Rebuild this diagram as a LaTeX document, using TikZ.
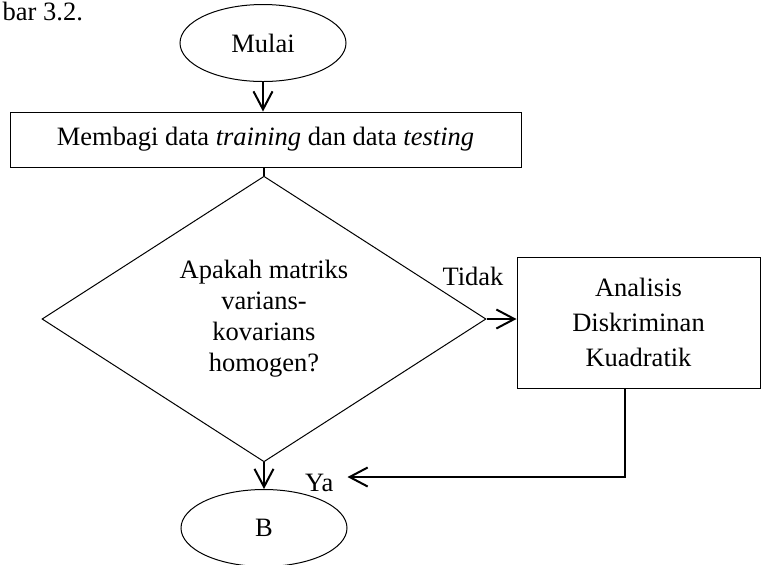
\documentclass[tikz,border=0pt]{standalone}
\usepackage{fontspec}
\setmainfont{Liberation Serif}
\usetikzlibrary{shapes.geometric,arrows.meta}

\begin{document}
\begin{tikzpicture}[x=0.5pt,y=-0.5pt,
    font=\fontsize{13.25}{15.5}\selectfont,
    proses/.style={draw,line width=0.5pt,inner sep=0pt,align=center},
    terminal/.style={draw,ellipse,line width=0.5pt,inner sep=0pt,minimum width=83pt,minimum height=38.5pt},
    keputusan/.style={draw,diamond,line width=0.5pt,inner sep=0pt,align=center},
    panah/.style={line width=1pt,-{Straight Barb[length=9pt,width=9.5pt]}}]
            \useasboundingbox (0,0) rectangle (766,564);

            \node[anchor=base east] (judul) at (90,20) {bar 3.2.};

            \node[terminal] (mulai) at (263,43) {Mulai};
            \node[proses,minimum width=255.5pt,minimum height=27.5pt] (bagi) at (265.5,139.5) {Membagi data \textit{training} dan data \textit{testing}};
            \node[keputusan,minimum width=222pt,minimum height=137pt] (cek) at (264,319) {Apakah matriks\\varians-\\kovarians\\homogen?};
            \node[proses,minimum width=121.5pt,minimum height=65.5pt,font=\fontsize{13.25}{17.5}\selectfont] (ana) at (638.5,322.5) {Analisis\\Diskriminan\\Kuadratik};
            \node[terminal] (b) at (264,528) {B};
            \coordinate (belok) at (625,477);

            \draw[panah] (mulai.south) -- (mulai.south |- bagi.north);
            \draw[line width=1pt] (cek.north |- bagi.south) -- (cek.north);
            \draw[panah] (cek.east) -- (cek.east -| ana.west);
            \draw[panah] (cek.south) -- (b.north);
            \draw[panah] (ana.south -| belok) -- (belok) -- (b.east |- belok);

            \node[anchor=base east] (tidak) at ([xshift=12pt,yshift=17pt]cek.east) {Tidak};
            \node[anchor=base west] (ya) at ([xshift=17pt,yshift=-1pt]b.north) {Ya};
        \end{tikzpicture}
\end{document}
